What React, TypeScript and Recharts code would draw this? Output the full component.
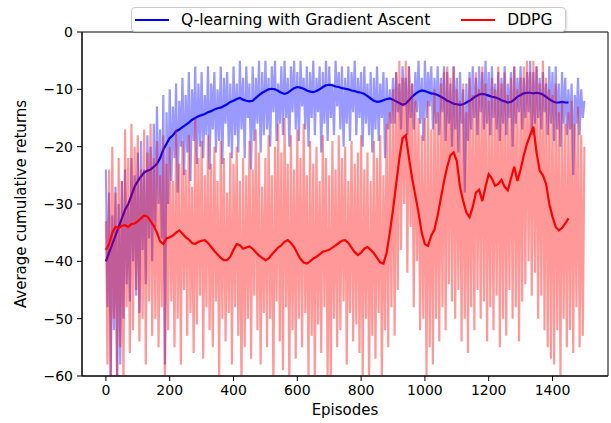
import { ComposedChart, Line, XAxis, YAxis, Legend, ReferenceArea } from "recharts";

const FONT = "DejaVu Sans";
const RAW_STEP = 5;
const MEAN_STEP = 10;

// raw returns per episode (sampled every 5 episodes, 0..1500)
const qRaw = [
  -24, -48, -28, -60, -32, -52, -27, -62, -30, -58,
  -26, -50, -24, -44, -30, -47, -22, -40, -25, -46,
  -21, -49, -19, -38, -24, -44, -18, -36, -20, -40,
  -16, -34, -13, -30, -17, -36, -11, -58, -14, -30,
  -10, -26, -13, -22, -9, -28, -12, -20, -8, -25,
  -11, -21, -7, -26, -10, -19, -6, -23, -9, -20,
  -7, -22, -11, -18, -6, -24, -9, -17, -7, -21,
  -10, -19, -6, -23, -8, -16, -7, -20, -9, -22,
  -6, -18, -9, -21, -5, -17, -8, -22, -6, -15,
  -9, -24, -6, -19, -8, -16, -5, -21, -7, -18,
  -5, -17, -8, -20, -6, -14, -5, -19, -9, -16,
  -6, -18, -5, -15, -8, -20, -6, -14, -5, -17,
  -7, -19, -5, -13, -8, -17, -6, -20, -7, -15,
  -5, -18, -8, -14, -6, -21, -7, -16, -5, -19,
  -6, -15, -9, -18, -5, -13, -7, -17, -6, -20,
  -8, -16, -6, -19, -7, -14, -5, -18, -8, -15,
  -7, -20, -6, -16, -9, -18, -7, -21, -8, -17,
  -6, -19, -9, -15, -7, -22, -8, -17, -10, -16,
  -8, -16, -7, -14, -9, -17, -6, -13, -8, -18,
  -6, -15, -9, -17, -7, -14, -5, -16, -8, -19,
  -5, -15, -7, -13, -6, -17, -8, -16, -6, -18,
  -8, -14, -6, -19, -7, -16, -9, -20, -6, -17,
  -8, -21, -7, -16, -10, -28, -9, -19, -7, -17,
  -6, -15, -8, -18, -6, -14, -7, -17, -5, -16,
  -7, -18, -6, -15, -9, -17, -7, -19, -8, -16,
  -6, -18, -9, -15, -7, -20, -6, -16, -8, -14,
  -6, -17, -8, -15, -7, -14, -5, -18, -7, -16,
  -6, -15, -8, -17, -7, -14, -9, -18, -6, -16,
  -7, -19, -6, -17, -9, -20, -7, -16, -8, -18,
  -10, -17, -9, -25, -11, -16, -8, -18, -10, -15,
  -12,
];

const dRaw = [
  -33, -58, -24, -62, -20, -50, -28, -60, -22, -55,
  -26, -62, -17, -48, -22, -56, -16, -52, -20, -45,
  -18, -54, -24, -50, -17, -58, -21, -47, -16, -53,
  -22, -50, -19, -55, -25, -48, -18, -62, -23, -52,
  -20, -47, -26, -55, -17, -50, -23, -58, -19, -45,
  -24, -53, -18, -49, -27, -56, -15, -51, -22, -46,
  -19, -57, -25, -48, -18, -52, -23, -55, -20, -47,
  -26, -60, -19, -50, -22, -54, -28, -49, -21, -58,
  -23, -48, -20, -53, -26, -62, -22, -55, -25, -50,
  -19, -57, -24, -46, -17, -52, -21, -58, -27, -49,
  -22, -55, -18, -50, -25, -62, -20, -47, -16, -54,
  -21, -59, -15, -48, -23, -62, -18, -52, -24, -57,
  -17, -50, -22, -55, -16, -49, -25, -60, -19, -53,
  -23, -62, -20, -51, -26, -56, -18, -48, -22, -60,
  -25, -62, -19, -50, -24, -55, -18, -52, -22, -47,
  -20, -58, -26, -49, -19, -54, -23, -51, -21, -56,
  -18, -60, -24, -50, -21, -62, -26, -53, -19, -57,
  -22, -49, -18, -61, -25, -52, -16, -55, -14, -48,
  -10, -53, -7, -45, -5, -38, -8, -30, -5, -42,
  -6, -34, -9, -48, -12, -40, -15, -52, -18, -50,
  -15, -60, -12, -55, -17, -58, -10, -50, -14, -54,
  -9, -48, -7, -52, -6, -44, -8, -47, -6, -50,
  -10, -45, -12, -54, -9, -50, -14, -56, -8, -48,
  -11, -52, -7, -45, -10, -50, -6, -47, -9, -54,
  -12, -48, -8, -52, -10, -46, -6, -55, -9, -50,
  -7, -53, -11, -45, -8, -50, -6, -48, -10, -54,
  -8, -47, -6, -44, -5, -40, -7, -46, -5, -42,
  -6, -50, -9, -46, -5, -52, -8, -55, -10, -57,
  -11, -58, -9, -52, -14, -60, -12, -50, -16, -55,
  -14, -52, -12, -56, -16, -48, -13, -55, -18, -53,
  -20,
];

// moving averages (sampled every 10 episodes, 0..1450)
const qMean = [
  -40, -38.5, -37, -35.5, -34, -32.5, -31, -30, -28.5, -27,
  -26, -25.2, -24.5, -24.2, -24, -23.5, -23, -22, -20.5, -19.5,
  -18.5, -18, -17.3, -17, -16.6, -16.2, -15.8, -15.3, -15, -14.7,
  -14.5, -14.3, -14, -13.8, -13.5, -13.3, -13.2, -12.9, -12.6, -12.2,
  -12, -11.7, -11.5, -11.8, -12, -12.1, -12, -11.5, -11, -10.6,
  -10.3, -10, -9.9, -10, -10.3, -10.6, -10.8, -10.6, -10.2, -9.8,
  -9.6, -9.7, -9.9, -10.2, -10.4, -10.5, -10.3, -10, -9.6, -9.3,
  -9.2, -9.3, -9.5, -9.6, -9.8, -9.9, -10, -10.2, -10.3, -10.5,
  -10.6, -10.8, -11.2, -11.6, -12, -12.2, -12.1, -11.9, -11.7, -11.6,
  -11.8, -12.1, -12.4, -12.7, -12.5, -11.9, -11.3, -10.8, -10.4, -10.2,
  -10.3, -10.5, -10.7, -10.8, -11, -11.3, -11.6, -12, -12.2, -12.5,
  -12.6, -12.7, -12.6, -12.3, -12, -11.6, -11.2, -10.9, -10.8, -10.9,
  -11.1, -11.3, -11.4, -11.6, -11.9, -12.1, -12.3, -12.2, -11.8, -11.3,
  -11, -10.7, -10.6, -10.6, -10.7, -10.6, -10.7, -10.9, -11.3, -11.7,
  -12.1, -12.3, -12.3, -12.2, -12.3, -12.3,
];

const dMean = [
  -38, -37, -35, -34, -34.2, -33.8, -33.7, -34, -33.5, -33.4,
  -33, -32.5, -32, -32.2, -33, -33.8, -35, -36.5, -37, -36,
  -35.8, -35.5, -35, -34.6, -35.2, -35.8, -36.2, -36.8, -37, -36.6,
  -36.4, -36.3, -36.8, -37.5, -38.2, -38.8, -39.4, -39.8, -39.8, -39.2,
  -38, -37, -37.2, -37.8, -37.6, -37.4, -37.8, -38.4, -39, -39.4,
  -39.8, -39.5, -38.8, -38.2, -37.6, -37.2, -36.6, -36.3, -36.8, -37.5,
  -38.6, -39.6, -40.2, -40.4, -40, -39.5, -39.2, -38.8, -38.3, -38.2,
  -38, -37.6, -37.2, -36.8, -36.4, -36.3, -36.8, -37.6, -38.4, -38.9,
  -38.5, -37.8, -37.5, -38, -38.6, -39.4, -40.2, -40.4, -38.5, -35,
  -31, -26.5, -22, -18.5, -18, -22, -25.5, -28.5, -31.5, -35,
  -37, -37.3, -35.5, -34.5, -32, -29, -26, -23.5, -21.5, -21,
  -22.5, -27, -29.5, -31.5, -32.3, -30.5, -28, -27.5, -29.5, -27,
  -24.8, -25.5, -26.8, -26.5, -25.8, -27, -27.6, -25.5, -23.5, -26,
  -24, -21.5, -19.5, -18, -16.5, -21, -24.2, -25, -26.5, -30,
  -32.2, -34, -34.6, -34.2, -33.4, -32.5,
];

const xTicks = [0, 200, 400, 600, 800, 1000, 1200, 1400];
const yTicks = [-60, -50, -40, -30, -20, -10, 0];

const ratio = MEAN_STEP / RAW_STEP;
const data = qRaw.map((v, i) => ({
  ep: i * RAW_STEP,
  qRaw: v,
  dRaw: dRaw[i],
  qMean: i % ratio === 0 ? qMean[i / ratio] : undefined,
  dMean: i % ratio === 0 ? dMean[i / ratio] : undefined,
}));

const fmtY = (v: number) => (v < 0 ? `\u2212${-v}` : `${v}`);

const YLabel = ({ viewBox }: any) => {
  const cx = 21;
  const cy = viewBox.y + viewBox.height / 2;
  return (
    <text x={cx} y={cy} transform={`rotate(-90 ${cx} ${cy})`} textAnchor="middle"
      dominantBaseline="central" fontSize={15} fontFamily={FONT} fill="#000">
      Average cumulative returns
    </text>
  );
};

const XLabel = ({ viewBox }: any) => (
  <text x={viewBox.x + viewBox.width / 2} y={410} textAnchor="middle" dominantBaseline="central"
    fontSize={15} fontFamily={FONT} fill="#000">
    Episodes
  </text>
);

const LegendBox = () => (
  <div
    style={{
      boxSizing: "border-box", width: 435, height: 25, border: "1px solid #cccccc",
      borderRadius: 4, background: "rgba(255,255,255,0.9)", display: "flex",
      alignItems: "center", fontFamily: FONT, fontSize: 15.5, color: "#000",
      boxShadow: "1px 1px 2px rgba(0,0,0,0.15)",
    }}
  >
    <span style={{ marginLeft: 3, width: 34, height: 2, background: "#0000ff", flexShrink: 0 }} />
    <span style={{ marginLeft: 12, whiteSpace: "nowrap" }}>Q-learning with Gradient Ascent</span>
    <span style={{ marginLeft: 31, width: 34, height: 2, background: "#ff0000", flexShrink: 0 }} />
    <span style={{ marginLeft: 12, whiteSpace: "nowrap" }}>DDPG</span>
  </div>
);

export default function App() {
  return (
    <div style={{ width: 611, height: 423, position: "relative", background: "#fff" }}>
      <style>{"body{margin:0}"}</style>
      <ComposedChart width={611} height={423} data={data}
        margin={{ top: 32, right: 3, bottom: 0, left: 0 }} style={{ fontFamily: FONT }}>
        <XAxis dataKey="ep" type="number" domain={[-75, 1574]} ticks={xTicks} allowDataOverflow
          height={47} tickSize={5} tickMargin={4} stroke="#000"
          tick={{ fontSize: 14, fill: "#000", fontFamily: FONT }} label={<XLabel />} />
        <YAxis domain={[-60, 0]} ticks={yTicks} allowDataOverflow width={82} tickSize={5}
          tickMargin={4} stroke="#000" tickFormatter={fmtY}
          tick={{ fontSize: 14, fill: "#000", fontFamily: FONT }} label={<YLabel />} />
        <Line dataKey="qRaw" stroke="#0000ff" strokeOpacity={0.4} strokeWidth={2.2} dot={false}
          isAnimationActive={false} type="linear" />
        <Line dataKey="qMean" stroke="#0000ff" strokeWidth={2.2} dot={false} connectNulls
          isAnimationActive={false} type="linear" />
        <Line dataKey="dRaw" stroke="#ff0000" strokeOpacity={0.4} strokeWidth={2.2} dot={false}
          isAnimationActive={false} type="linear" />
        <Line dataKey="dMean" stroke="#ff0000" strokeWidth={2.2} dot={false} connectNulls
          isAnimationActive={false} type="linear" />
        <ReferenceArea x1={-75} x2={1574} y1={-60} y2={0} fill="none" stroke="#000"
          strokeWidth={1} ifOverflow="visible" />
        <Legend layout="vertical" align="center" verticalAlign="middle" content={<LegendBox />}
          wrapperStyle={{ top: 7, left: 131, width: 435, height: 25 }} />
      </ComposedChart>
    </div>
  );
}
